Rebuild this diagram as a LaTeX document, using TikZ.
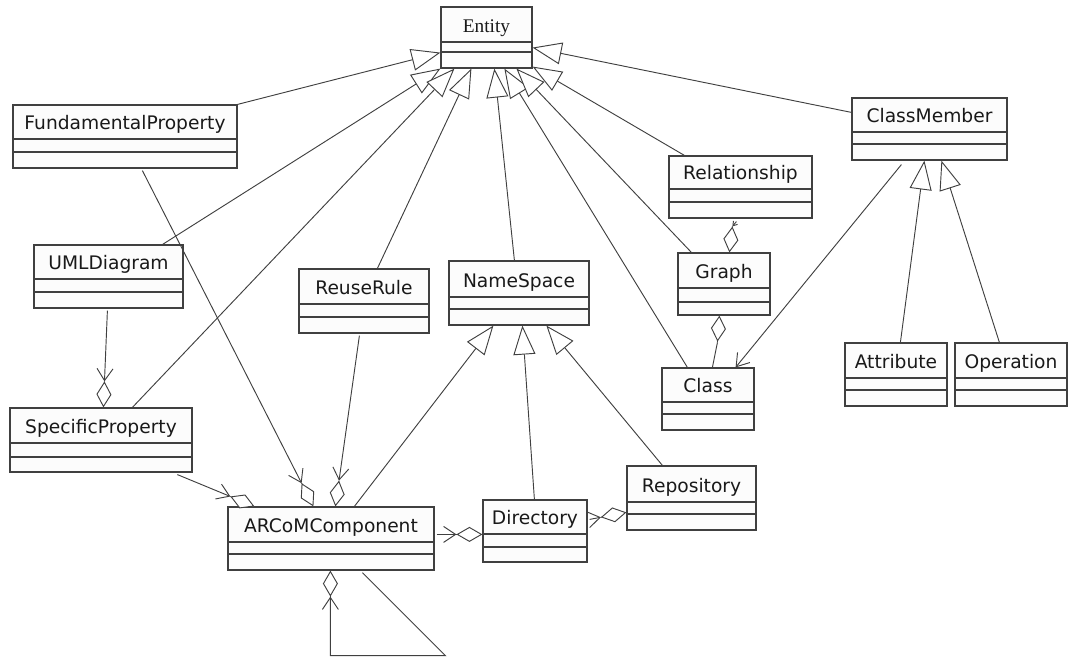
\documentclass[tikz,border=0pt]{standalone}
\usepackage{fontspec}
\setmainfont{DejaVu Sans}
\newfontfamily\serifent{Liberation Serif}
\usetikzlibrary{arrows.meta,calc,fit}
\definecolor{linecol}{HTML}{404040}
\definecolor{boxfill}{HTML}{FCFCFC}
\tikzset{
  classbox/.style={draw=linecol, fill=boxfill, line width=0.9pt, inner sep=0pt},
  classtitle/.style={font=\fontsize{14}{16}\selectfont, text=black!90, inner sep=0pt, anchor=base},
  cline/.style={draw=linecol, line width=0.9pt},
  conn/.style={draw=linecol, line width=0.7pt},
  gen/.style={conn, -{Triangle[open, length=21.75pt, width=16.5pt, fill=white]}},
  barb/.style={conn, -{Straight Barb[length=9pt, width=12pt]}},
  smallbarb/.style={conn, -{Straight Barb[length=3pt, width=4pt]}},
  dia/.style={conn, -{Diamond[open, length=19.5pt, width=11.25pt, fill=white]}},
}
% name, text, x1, y1, x2, y2, line1, line2 (pixel units)
\newcommand{\umlclass}[8]{%
  \node[classbox, fit={(#3,#4) (#5,#6)}] (#1) {};
  \node[classtitle] (#1-t) at ({(#3+#5)/2},{#7-10}) {#2};
  \draw[cline] (#3,#7) -- (#5,#7) (#3,#8) -- (#5,#8);
}
% aggregation: start (part), end (whole), name of joint coordinate
\newcommand{\aggr}[3]{%
  \coordinate (#3) at ($(#2)!19.5pt!(#1)$);
  \draw[barb] (#1) -- (#3);
  \draw[dia] (#3) -- (#2);
}
\begin{document}
\begin{tikzpicture}[x=0.75pt, y=-0.75pt]
\useasboundingbox (0,0) rectangle (1068,657);

% classes
\umlclass{Entity}{{\serifent\fontsize{14.5}{16}\selectfont Entity}}{441}{7}{532}{68}{42}{52}
\umlclass{FP}{FundamentalProperty}{13}{105}{237}{168}{139}{152}
\umlclass{UML}{UMLDiagram}{34}{245}{183}{308}{279}{292}
\umlclass{SP}{SpecificProperty}{10}{408}{192}{472}{443}{457}
\umlclass{AR}{ARCoMComponent}{228}{507}{434}{570}{542}{554}
\umlclass{RR}{ReuseRule}{299}{269}{429}{333}{304}{317}
\umlclass{NS}{NameSpace}{449}{261}{589}{325}{297}{309}
\umlclass{Graph}{Graph}{678}{253}{770}{315}{288}{302}
\umlclass{Class}{Class}{662}{368}{754}{430}{402}{414}
\umlclass{Dir}{Directory}{483}{500}{587}{562}{534}{547}
\umlclass{Rep}{Repository}{627}{466}{756}{530}{502}{514}
\umlclass{Rel}{Relationship}{669}{156}{812}{218}{189}{202}
\umlclass{CM}{ClassMember}{852}{98}{1007}{160}{132}{144}
\umlclass{Attr}{Attribute}{845}{343}{947}{406}{378}{390}
\umlclass{Op}{Operation}{955}{343}{1067}{406}{378}{390}

% generalizations to Entity
\draw[gen] (FP.north east) -- ($(Entity.south west)+(0,-16)$);
\draw[gen] ($(UML.north east)+(-21,0)$) -- (Entity.south west);
\draw[gen] ($(SP.north west)+(123,0)$) -- ($(Entity.south west)+(14,0)$);
\draw[gen] ($(RR.north west)+(79,0)$) -- ($(Entity.south west)+(31,0)$);
\draw[gen] ($(NS.north west)+(66,0)$) -- ($(Entity.south west)+(54,0)$);
\draw[gen] ($(Class.north west)+(26,0)$) -- ($(Entity.south west)+(64,0)$);
\draw[gen] ($(Graph.north west)+(14,0)$) -- ($(Entity.south west)+(76,0)$);
\draw[gen] ($(Rel.north west)+(16,0)$) -- ($(Entity.south east)+(0,-2)$);
\draw[gen] ($(CM.north west)+(0,15)$) -- ($(Entity.south east)+(0,-21)$);

% generalizations to NameSpace
\draw[gen] ($(AR.north west)+(127,0)$) -- ($(NS.south west)+(45,0)$);
\draw[gen] ($(Dir.north west)+(52,0)$) -- ($(NS.south west)+(74,0)$);
\draw[gen] ($(Rep.north west)+(36,0)$) -- ($(NS.south west)+(98,0)$);

% generalizations to ClassMember
\draw[gen] ($(Attr.north west)+(56,0)$) -- ($(CM.south west)+(73,0)$);
\draw[gen] ($(Op.north west)+(45,0)$) -- ($(CM.south west)+(90,0)$);

% aggregations
\aggr{$(UML.south west)+(74,2)$}{$(SP.north west)+(94,0)$}{j1}
\aggr{$(FP.south west)+(130,2)$}{$(AR.north west)+(86,0)$}{j2}
\aggr{$(RR.south west)+(61,2)$}{$(AR.north west)+(108,0)$}{j3}
\aggr{$(SP.south west)+(168,2)$}{$(AR.north west)+(27,0)$}{j4}
\aggr{$(AR.north east)+(2,28)$}{$(Dir.north west)+(0,35)$}{j5}
\aggr{$(Dir.north east)+(2,20)$}{$(Rep.north west)+(0,47)$}{j6}

% Relationship -- Graph (short link, small arrow)
\coordinate (j7) at ($(Graph.north west)+(55,-26)$);
\draw[smallbarb] ($(Rel.south west)+(68,3)$) -- (j7);
\draw[dia] (j7) -- ($(Graph.north west)+(52,0)$);

% Class -- Graph (aggregation, no arrow)
\coordinate (j8) at ($(Graph.south west)+(40,27)$);
\draw[conn] ($(Class.north west)+(51,0)$) -- (j8);
\draw[dia] (j8) -- ($(Graph.south west)+(42,0)$);

% self association of ARCoMComponent
\coordinate (sl1) at ($(AR.south west)+(218,85)$);
\coordinate (sl2) at ($(AR.south west)+(103,85)$);
\coordinate (sl3) at ($(AR.south west)+(103,26)$);
\draw[barb] ($(AR.south west)+(135,2)$) -- (sl1) -- (sl2) -- (sl3);
\draw[dia] (sl3) -- ($(AR.south west)+(103,0)$);

% navigable association ClassMember -> Class
\draw[barb] ($(CM.south west)+(50,4)$) -- ($(Class.north east)+(-19,0)$);
\end{tikzpicture}
\end{document}
